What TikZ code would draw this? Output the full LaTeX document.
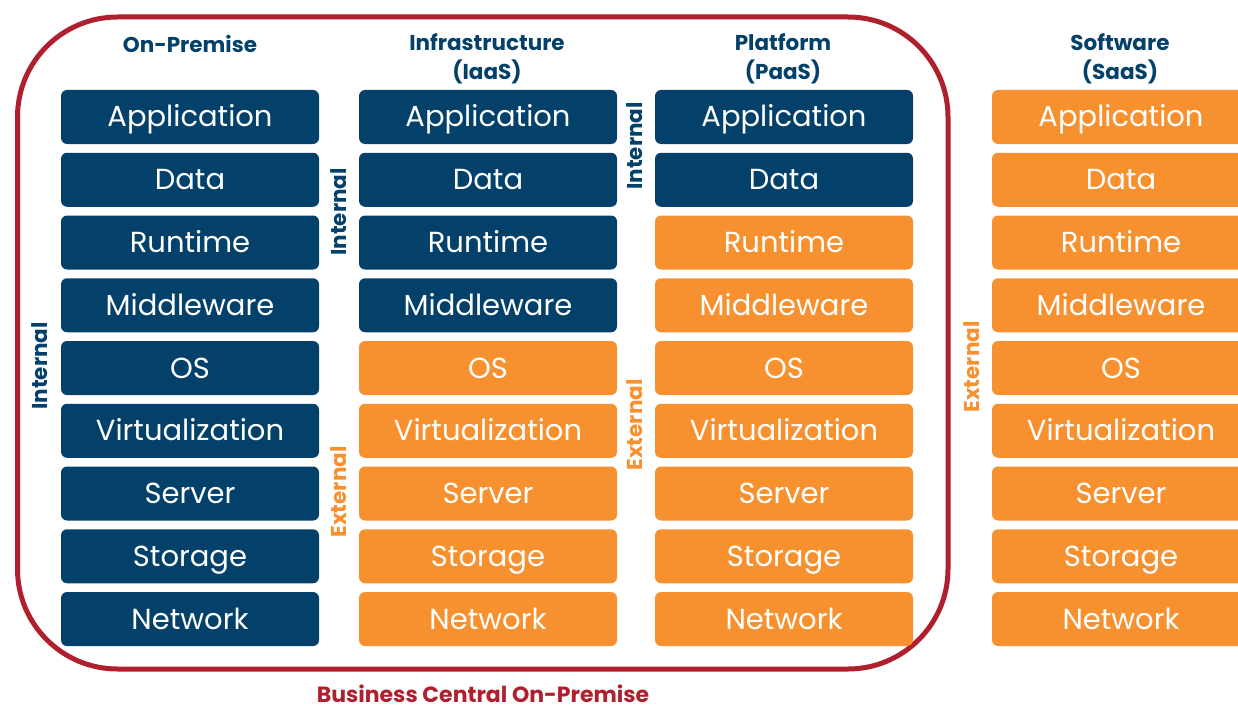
\documentclass[tikz,border=0pt]{standalone}
\usepackage{fontspec}
\setmainfont{Poppins}
\definecolor{navy}{HTML}{03416B}
\definecolor{orng}{HTML}{F7912F}
\definecolor{bcred}{HTML}{B01F2D}
\begin{document}
\begin{tikzpicture}[x=1pt,y=-1pt,
  layer/.style={rounded corners=6pt, minimum width=258pt, minimum height=54pt, inner sep=0pt, text height=20pt, text depth=0pt, text=white, font=\fontsize{29}{30}\selectfont},
  inl/.style={layer, fill=navy},
  exl/.style={layer, fill=orng},
  header/.style={text=navy, align=center, font=\bfseries\fontsize{21.5}{29}\selectfont},
  sidelab/.style={rotate=90, font=\bfseries\fontsize{21.5}{24}\selectfont, inner sep=0pt},
  bcframe/.style={draw=bcred, line width=5pt, rounded corners=100pt}]
\useasboundingbox (0,0) rectangle (1238,706);
\clip (0,0) rectangle (1238,706);
\draw[bcframe] (17.5,17) rectangle (948,669);
\def\names{{"Application","Data","Runtime","Middleware","OS","Virtualization","Server","Storage","Network"}}
% column 1: On-Premise (all internal)
\foreach \i in {0,...,8}{
  \pgfmathsetmacro{\yy}{117+62.75*\i}
  \pgfmathparse{\names[\i]}\edef\lab{\pgfmathresult}
  \node[inl] (a\i) at (190,\yy) {\lab};
}
% column 2: IaaS
\foreach \i in {0,...,8}{
  \pgfmathsetmacro{\yy}{117+62.75*\i}
  \pgfmathparse{\names[\i]}\edef\lab{\pgfmathresult}
  \ifnum\i<4 \node[inl] (b\i) at (488,\yy) {\lab};
  \else \node[exl] (b\i) at (488,\yy) {\lab}; \fi
}
% column 3: PaaS
\foreach \i in {0,...,8}{
  \pgfmathsetmacro{\yy}{117+62.75*\i}
  \pgfmathparse{\names[\i]}\edef\lab{\pgfmathresult}
  \ifnum\i<2 \node[inl] (c\i) at (784,\yy) {\lab};
  \else \node[exl] (c\i) at (784,\yy) {\lab}; \fi
}
% column 4: SaaS
\foreach \i in {0,...,8}{
  \pgfmathsetmacro{\yy}{117+62.75*\i}
  \pgfmathparse{\names[\i]}\edef\lab{\pgfmathresult}
  \node[exl] (d\i) at (1121,\yy) {\lab};
}
% headers
\node[header] (h1) at (190,44) {On-Premise};
\node[header] (h2) at (487,58.5) {Infrastructure\\(IaaS)};
\node[header] (h3) at (783,58.5) {Platform\\(PaaS)};
\node[header] (h4) at (1120,58.5) {Software\\(SaaS)};
% side labels
\node[sidelab, text=navy] (s1) at (40,366) {Internal};
\node[sidelab, text=navy] (s2) at (339,212) {Internal};
\node[sidelab, text=orng] (s3) at (339,492) {External};
\node[sidelab, text=navy] (s4) at (635,146) {Internal};
\node[sidelab, text=orng] (s5) at (635,425) {External};
\node[sidelab, text=orng] (s6) at (972,367) {External};
% bottom label
\node[text=bcred, font=\bfseries\fontsize{22}{24}\selectfont, anchor=base, inner sep=0pt] (bc) at (483,702) {Business Central On-Premise};
\end{tikzpicture}
\end{document}
